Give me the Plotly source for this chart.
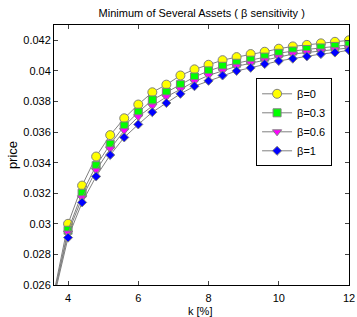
import plotly.graph_objects as go

k = [3.6, 4.0, 4.4, 4.8, 5.2, 5.6, 6.0, 6.4, 6.8, 7.2, 7.6, 8.0, 8.4, 8.8, 9.2, 9.6,
     10.0, 10.4, 10.8, 11.2, 11.6, 12.0]

beta0 = [0.0255, 0.0300, 0.0325, 0.0344, 0.0358, 0.0369, 0.0378, 0.0386, 0.0391, 0.0397, 0.0401,
         0.0404, 0.0407, 0.0409, 0.0411, 0.04125, 0.04145, 0.0416, 0.0417, 0.0418, 0.0419, 0.0420]
beta03 = [0.0254, 0.02958, 0.0320, 0.0338, 0.0352, 0.0364, 0.0373, 0.0381, 0.0386, 0.0391, 0.0396,
          0.0400, 0.0403, 0.0405, 0.0407, 0.0409, 0.04115, 0.0413, 0.0414, 0.0415, 0.0416, 0.0417]
beta06 = [0.0253, 0.0294, 0.0317, 0.0335, 0.0349, 0.0361, 0.0370, 0.0377, 0.0383, 0.0388, 0.0393,
          0.0397, 0.0400, 0.0403, 0.0405, 0.0407, 0.0409, 0.0411, 0.0412, 0.0413, 0.0414, 0.0415]
beta1 = [0.0252, 0.0291, 0.0314, 0.0331, 0.0345, 0.03565, 0.0365, 0.0373, 0.0379, 0.0385, 0.0390,
         0.03935, 0.0397, 0.0400, 0.0402, 0.04045, 0.04065, 0.0408, 0.04095, 0.0411, 0.0412, 0.04135]

names = ["β=0", "β=0.3", "β=0.6", "β=1"]
series = [beta0, beta03, beta06, beta1]
colors = ["#ffff00", "#00ff00", "#ff00ff", "#0000ff"]
symbols = ["circle", "square", "triangle-down", "diamond"]
sizes = [9, 8, 8, 7]

x_ticks = [4, 6, 8, 10, 12]
y_ticks = [0.026, 0.028, 0.03, 0.032, 0.034, 0.036, 0.038, 0.04, 0.042]
y_tick_text = ["0.026", "0.028", "0.03", "0.032", "0.034", "0.036", "0.038", "0.04", "0.042"]

fig = go.Figure()
for name, ys, c, s, sz in zip(names, series, colors, symbols, sizes):
    fig.add_trace(go.Scatter(
        x=k, y=ys, name=name, mode="lines+markers",
        line=dict(color="#808080", width=1),
        marker=dict(symbol=s, color=c, size=sz, line=dict(color="#808080", width=1)),
        cliponaxis=True,
    ))

font = "Liberation Sans, Arial, sans-serif"
fig.update_layout(
    width=357, height=317,
    margin=dict(l=54, r=8, t=25, b=32),
    paper_bgcolor="white", plot_bgcolor="white",
    font=dict(family=font, size=11, color="black"),
    title=dict(text="Minimum of Several Assets ( β sensitivity )", x=0.565, xanchor="center",
               y=0.958, yanchor="middle", font=dict(size=11)),
    legend=dict(x=0.685, y=0.795, xanchor="left", yanchor="top",
                bgcolor="white", bordercolor="black", borderwidth=1,
                font=dict(size=11), tracegroupgap=0, itemwidth=30),
    showlegend=True,
    annotations=[dict(text="k [%]", xref="paper", yref="paper", x=0.495, y=-0.1,
                      xanchor="center", yanchor="middle", showarrow=False,
                      font=dict(size=11))],
)
fig.update_xaxes(range=[3.6, 12], tickvals=x_ticks, ticks="inside", ticklen=4,
                 showline=True, linecolor="black", linewidth=1, mirror="ticks",
                 showgrid=False, zeroline=False,
                 tickfont=dict(size=11), ticklabelstandoff=3, automargin=False)
fig.update_yaxes(range=[0.026, 0.043], tickvals=y_ticks, ticktext=y_tick_text, ticks="inside", ticklen=4,
                 showline=True, linecolor="black", linewidth=1, mirror="ticks",
                 showgrid=False, zeroline=False, title=dict(text="price", standoff=2),
                 tickfont=dict(size=11), automargin=False)

fig.write_html("out.html", config={"displayModeBar": False},
               post_script="document.body.style.margin='0';document.body.style.padding='0';"
                           "document.body.style.overflow='hidden';")
